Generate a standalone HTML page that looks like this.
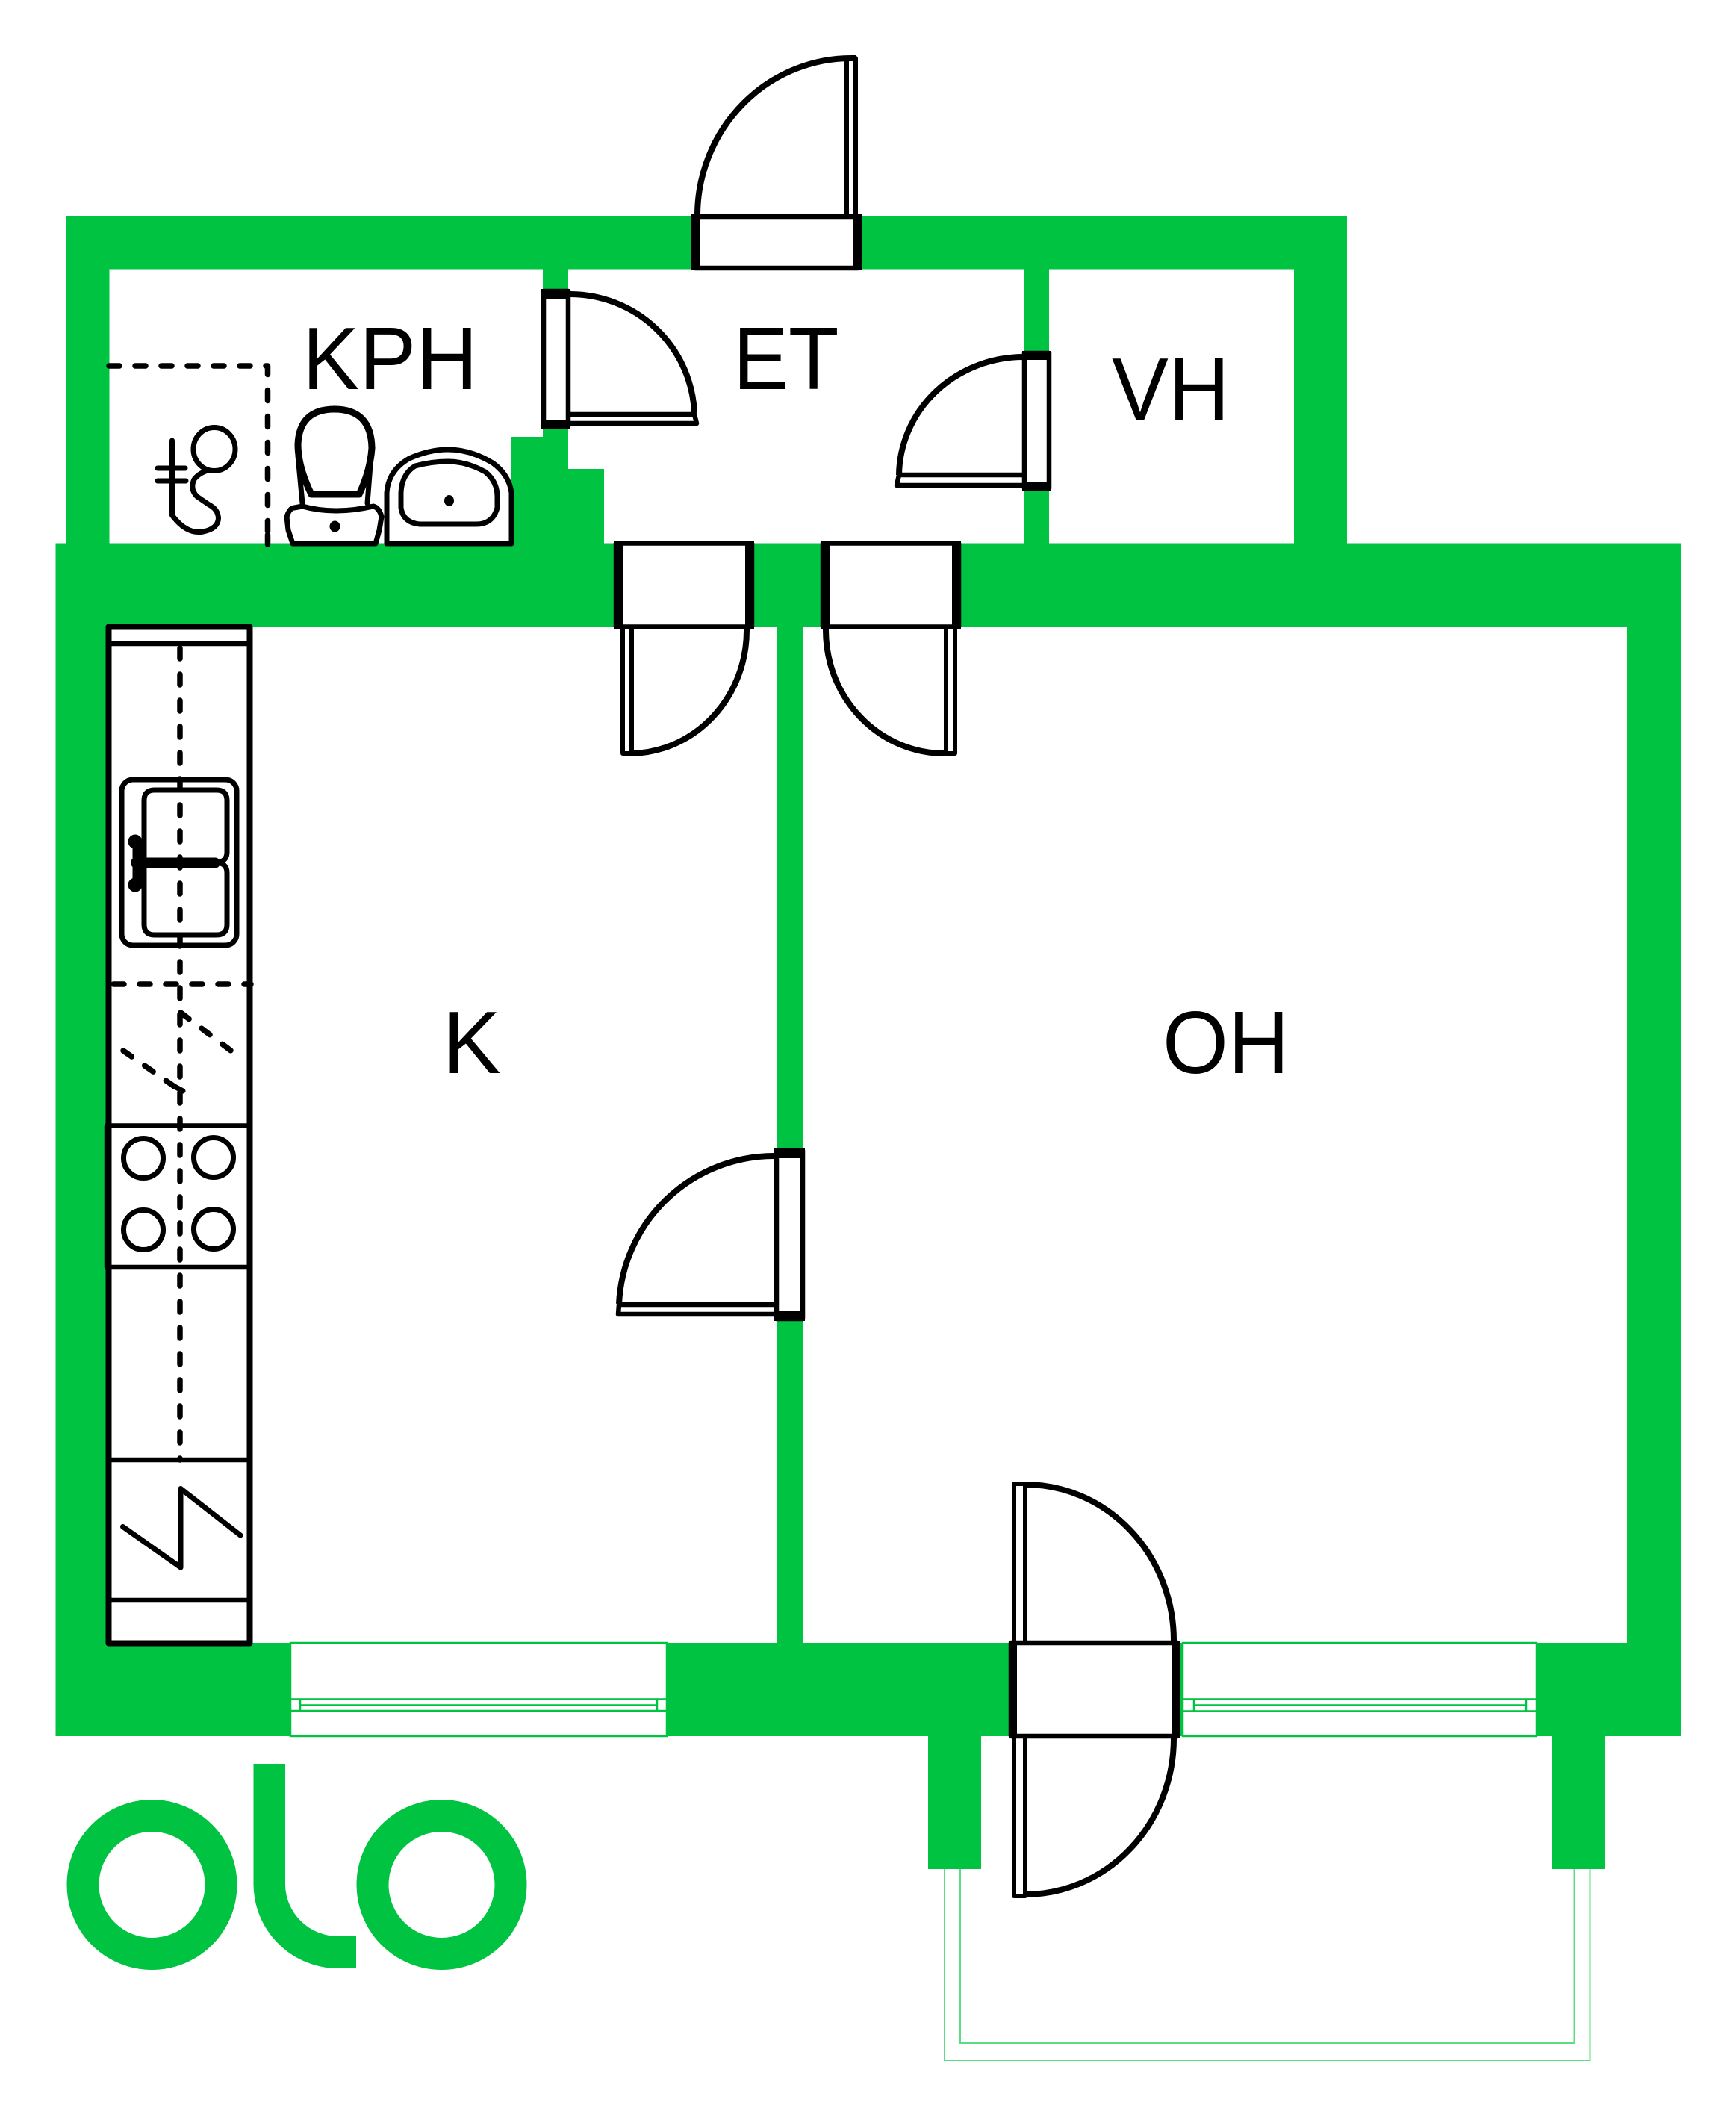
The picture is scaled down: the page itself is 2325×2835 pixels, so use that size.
<!DOCTYPE html>
<html>
<head>
<meta charset="utf-8">
<style>
html,body{margin:0;padding:0;background:#fff}
svg{display:block}
text{font-family:"Liberation Sans",sans-serif;font-size:119px;fill:#000}
</style>
</head>
<body>
<svg width="2325" height="2835" viewBox="0 0 2325 2835" xmlns="http://www.w3.org/2000/svg">
<rect width="2325" height="2835" fill="#fff"/>

<!-- Balcony lines -->
<g fill="none" stroke="#5ddc86" stroke-width="2">
<path d="M1265 2503V2759H2129.500V2503"/>
<path d="M1286 2503V2736H2108.500V2503"/>
</g>

<!-- Walls -->
<path fill="#00c441" fill-rule="evenodd" d="M89 289H1804V727.500H2251V2325H2150V2503H2078V2325H1314V2503H1243V2325H74.500V727.500H89Z
M146.500 360.500V727.500H685V585H727V360.500Z
M761 360.500V628H809V727.500H1371V360.500Z
M1405 360.500V727.500H1733V360.500Z
M143 840V2200H1040V840Z
M1075 840V2200H2179V840Z"/>

<!-- Windows -->
<g fill="#fff" stroke="#00c441" stroke-width="2.500">
<rect x="389" y="2200" width="504" height="125"/>
<path fill="none" d="M389 2275.500H893M389 2291H893M402 2275.500V2291M880 2275.500V2291M402 2283.500H880"/>
<rect x="1584" y="2200" width="474" height="125"/>
<path fill="none" d="M1584 2275.500H2058M1584 2291.500H2058M1599 2275.500V2291.500M2044 2275.500V2291.500M1599 2283.500H2044"/>
</g>

<!-- Doors -->
<g fill="#fff" stroke="#000" stroke-linejoin="round" stroke-linecap="butt">
<!-- Entrance door -->
<path fill="none" stroke-width="8" d="M934 287A206 211 0 0 1 1142 78"/>
<path fill="none" stroke-width="6" d="M1134 287V78H1146V287"/>
<path fill="none" d="M1138 76H1147" stroke-width="5"/>
<rect x="931" y="290" width="218" height="69" stroke-width="6.500"/>

<!-- KPH door -->
<path fill="none" stroke-width="8" d="M764 394A167 166 0 0 1 930 553"/>
<path stroke-width="6.500" fill="none" d="M764 555H930L933 567H764"/>
<rect x="728" y="390" width="33" height="181" stroke-width="6.500"/>

<!-- VH door -->
<path fill="none" stroke-width="8" d="M1371 478A167 160 0 0 0 1204 636"/>
<path stroke-width="6.500" fill="none" d="M1369 636H1204L1201 650H1369"/>
<rect x="1372" y="473" width="33" height="181" stroke-width="6.500"/>

<!-- KT door -->
<path fill="none" stroke-width="8" d="M1000 843A157 165 0 0 1 846 1009"/>
<path fill="none" stroke-width="6" d="M846 843V1009H834V843"/>
<rect x="825" y="727.500" width="182" height="112" stroke-width="6.500"/>

<!-- OH door top -->
<path fill="none" stroke-width="8" d="M1106 843A159 165 0 0 0 1265 1009"/>
<path fill="none" stroke-width="6" d="M1267 843V1009H1279V843"/>
<rect x="1102" y="727.500" width="182" height="112" stroke-width="6.500"/>

<!-- K-OH door -->
<path fill="none" stroke-width="8" d="M1037 1548A208 208 0 0 0 829 1746"/>
<path fill="none" stroke-width="6.500" d="M1037 1747H829L828 1760H1037"/>
<rect x="1040" y="1541" width="35" height="225" stroke-width="6.500"/>

<!-- Balcony door -->
<path fill="none" stroke-width="8" d="M1373 1988A199 209 0 0 1 1572 2197"/>
<path fill="none" stroke-width="8" d="M1373 2537A199 209 0 0 0 1572 2328"/>
<path fill="none" stroke-width="6" d="M1373 2197V1987H1358V2197M1373 2328V2539H1358V2328"/>
<rect x="1354" y="2200" width="223" height="125" stroke-width="6.500"/>
</g>

<!-- Door end bars -->
<g fill="#000">
<rect x="926" y="287" width="11" height="75"/>
<rect x="1143" y="287" width="11" height="75"/>
<rect x="725" y="387" width="39" height="13"/>
<rect x="725" y="563" width="39" height="11.500"/>
<rect x="1369" y="470" width="39" height="12"/>
<rect x="1369" y="645" width="39" height="12"/>
<rect x="822" y="724.500" width="12" height="118.500"/>
<rect x="998" y="724.500" width="12" height="118.500"/>
<rect x="1099" y="724.500" width="12" height="118.500"/>
<rect x="1275" y="724.500" width="12" height="118.500"/>
<rect x="1037" y="1538" width="41" height="13"/>
<rect x="1037" y="1756" width="41" height="13"/>
<rect x="1351" y="2197" width="11" height="131"/>
<rect x="1569" y="2197" width="11" height="131"/>
</g>

<!-- Kitchen -->
<g fill="none" stroke="#000" stroke-linecap="round" stroke-linejoin="round">
<rect x="145.500" y="839.500" width="189" height="1361" fill="#fff" stroke-width="8"/>
<path stroke-width="6.500" d="M146 862H334M146 1507.500H334M146 1697H334M146 1955H334M146 2143H334"/>
<path stroke-width="9.500" d="M144.500 1508V1697"/>
<rect x="163" y="1044" width="154" height="222" rx="15" stroke-width="7"/>
<path stroke-width="7" d="M193 1155V1072Q193 1058 207 1058H290Q304 1058 304 1072V1141Q304 1155 288 1155Q304 1155 304 1169V1238Q304 1252 290 1252H207Q193 1252 193 1238Z"/>
<path stroke-width="14" d="M182 1155.500H288"/>
<path stroke-width="15" stroke-linecap="butt" d="M185 1127V1185"/>
<circle cx="181" cy="1127" r="6.500" fill="#000" stroke-width="6"/>
<circle cx="181" cy="1185" r="6.500" fill="#000" stroke-width="6"/>
<g stroke-width="7" fill="#fff">
<circle cx="192" cy="1551" r="26.500"/>
<circle cx="286" cy="1550" r="26.500"/>
<circle cx="192" cy="1647" r="26.500"/>
<circle cx="286" cy="1646" r="26.500"/>
</g>
<g stroke-width="7.500" stroke-dasharray="14 21">
<path d="M241 868V1955"/>
<path d="M152 1318H336"/>
<path d="M242 1356L325 1419"/>
<path d="M165 1407L245 1463"/>
</g>
<path stroke-width="7" d="M232 1454L245 1461"/>
<path stroke-width="7" d="M164.500 2044.500L242 2099V1993.500L322 2056"/>
</g>

<!-- Bathroom -->
<g fill="none" stroke="#000" stroke-linecap="round" stroke-linejoin="round">
<g stroke-width="7.500" stroke-dasharray="14 21">
<path d="M146 490H358.500V730"/>
</g>
<path stroke-width="7.500" d="M358.500 716V729"/>
<g stroke-width="7">
<ellipse cx="287" cy="601.500" rx="28" ry="29"/>
<path d="M230.500 590V690Q250 716 272 712Q292 708 292.500 694Q292 682 280 676L264 665Q254 655 260 642Q266 634 278 630"/>
<path d="M211 627H248M211 644H249"/>
</g>
<g stroke-width="9" fill="#fff">
<path d="M417 662Q399 625 399 595Q401 548 448 548Q497 548 498 600Q496 630 481 662Z"/>
</g>
<g stroke-width="7" fill="#fff">
<path d="M399 610L405 674M497 610L492 674"/>
<path d="M394 680Q388 680 384 692L386 710L392 728H503L508 710L511 692Q508 680 500 678Q448 690 405 678Z"/>
</g>
<ellipse cx="448.500" cy="705" rx="5" ry="5.500" fill="#000" stroke-width="4"/>
<g stroke-width="7">
<path fill="#fff" d="M518 728V660Q520 630 548 614Q575 602 600 602Q630 602 660 620Q682 636 685 660V728Z"/>
<path d="M537 660Q538 635 556 624Q578 618 600 618Q625 618 650 632Q666 645 666 665V680Q660 702 638 702H562Q540 700 537 680Z"/>
</g>
<ellipse cx="601.500" cy="670.500" rx="4.500" ry="5.500" fill="#000" stroke-width="4"/>
</g>

<!-- Labels -->
<text transform="translate(405 521) scale(.96 1)">KPH</text>
<text transform="translate(982 521) scale(.93 1)">ET</text>
<text transform="translate(1489 562) scale(.955 1)">VH</text>
<text transform="translate(593 1437) scale(.98 1)">K</text>
<text transform="translate(1557 1437) scale(.95 1)">OH</text>

<!-- Logo -->
<circle cx="203.500" cy="2524" r="92.500" fill="none" stroke="#00c441" stroke-width="43"/>
<circle cx="591.500" cy="2524" r="92.500" fill="none" stroke="#00c441" stroke-width="43"/>
<path fill="#00c441" d="M339.500 2362H382V2523A71 70 0 0 0 453 2593H477V2636H453A113.500 113 0 0 1 339.500 2523Z"/>
</svg>
</body>
</html>
